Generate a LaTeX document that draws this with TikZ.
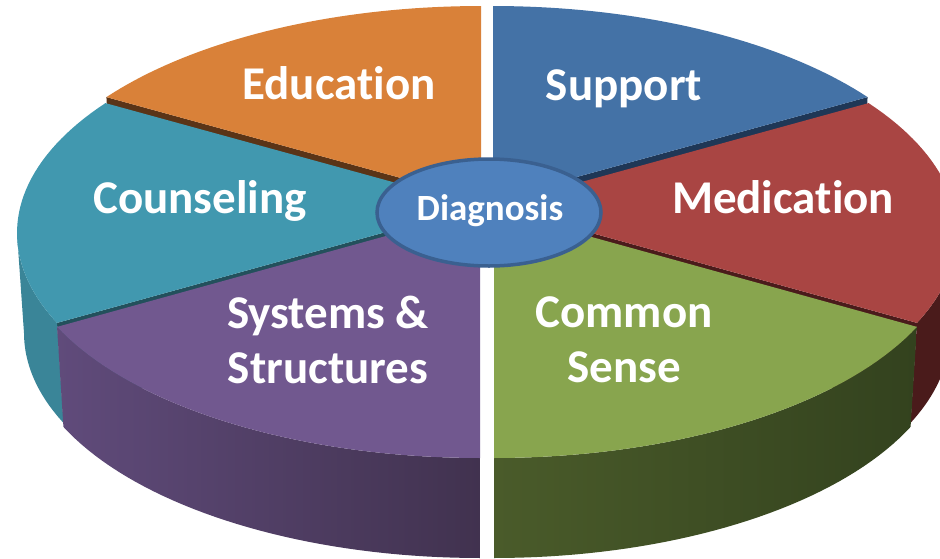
\documentclass[tikz,border=0pt]{standalone}
\usepackage{fontspec}
\setmainfont{Carlito}[Ligatures=NoCommon]
\usetikzlibrary{shapes.geometric}
\begin{document}
\begin{tikzpicture}[x=1pt,y=-1pt,
  lbl/.style={text=white,font=\bfseries\fontsize{47}{55}\selectfont,inner sep=0pt,anchor=base},
  diag/.style={ellipse,draw=diagedge,line width=3.5pt,fill=diagfill,minimum width=224pt,minimum height=107pt,
     inner sep=0pt},
  diagtext/.style={text=white,font=\bfseries\fontsize{37}{40}\selectfont,inner sep=0pt,anchor=base}]
\definecolor{edu}{HTML}{D98139}
\definecolor{edudark}{HTML}{5A3417}
\definecolor{sup}{HTML}{4472A6}
\definecolor{supdark}{HTML}{1F3756}
\definecolor{med}{HTML}{A94543}
\definecolor{meddark}{HTML}{4A1B1B}
\definecolor{com}{HTML}{88A54E}
\definecolor{comdarkA}{HTML}{4A5B2A}
\definecolor{comdarkB}{HTML}{33421E}
\definecolor{sys}{HTML}{71588F}
\definecolor{sysdarkA}{HTML}{604B7B}
\definecolor{sysdarkB}{HTML}{41324F}
\definecolor{cou}{HTML}{4198AF}
\definecolor{coudark}{HTML}{3A8598}
\definecolor{coustrip}{HTML}{23505C}
\definecolor{diagfill}{HTML}{4F81BD}
\definecolor{diagedge}{HTML}{3A6090}
\def\Ex{487}\def\Ey{231}\def\EA{463}\def\EB{221}
\def\Bx{487}\def\By{331}\def\BA{456}\def\BB{221}
\def\Px{487}\def\Py{204}\def\Qy{234}
\useasboundingbox (0,0) rectangle (940,558);
\clip (0,0) rectangle (940,558);
% ---------- Education (back left)
\begin{scope}[shift={(-6,-4)}]
  \fill[edudark] (\Px,\Py) -- ({\Ex+\EA*cos(216)},{\Ey+\EB*sin(216)}) -- ({\Bx+\BA*cos(216)},{\By+\BB*sin(216)}) -- (\Px,\Qy) -- cycle;
  \fill[edu] (\Px,\Py) -- plot[domain=216:270,samples=40] ({\Ex+\EA*cos(\x)},{\Ey+\EB*sin(\x)}) -- cycle;
\end{scope}
% ---------- Support (back right)
\begin{scope}[shift={(6,-4)}]
  \fill[supdark] (\Px,\Py) -- ({\Ex+\EA*cos(-36)},{\Ey+\EB*sin(-36)}) -- ({\Bx+\BA*cos(-36)},{\By+\BB*sin(-36)}) -- (\Px,\Qy) -- cycle;
  \fill[sup] (\Px,\Py) -- plot[domain=-90:-36,samples=40] ({\Ex+\EA*cos(\x)},{\Ey+\EB*sin(\x)}) -- cycle;
\end{scope}
% ---------- Counseling
\begin{scope}[shift={(-7,2)}]
  \fill[coustrip] (\Px,\Py) -- ({\Ex+\EA*cos(156)},{\Ey+\EB*sin(156)}) -- ({\Bx+\BA*cos(156)},{\By+\BB*sin(156)}) -- (\Px,\Qy) -- cycle;
  \fill[coudark] plot[domain=156:180,samples=30] ({\Ex+\EA*cos(\x)},{\Ey+\EB*sin(\x)}) -- plot[domain=180:156,samples=30] ({\Bx+\BA*cos(\x)},{\By+\BB*sin(\x)}) -- cycle;
  \fill[cou] (\Px,\Py) -- plot[domain=156:216,samples=40] ({\Ex+\EA*cos(\x)},{\Ey+\EB*sin(\x)}) -- cycle;
\end{scope}
% ---------- Medication
\begin{scope}[shift={(7,2)}]
  \fill[meddark] (\Px,\Py) -- ({\Ex+\EA*cos(24)},{\Ey+\EB*sin(24)}) -- ({\Bx+\BA*cos(24)},{\By+\BB*sin(24)}) -- (\Px,\Qy) -- cycle;
  \fill[meddark] plot[domain=-10:24,samples=30] ({\Ex+\EA*cos(\x)},{\Ey+\EB*sin(\x)}) -- plot[domain=24:-10,samples=30] ({\Bx+\BA*cos(\x)},{\By+\BB*sin(\x)}) -- cycle;
  \fill[med] (\Px,\Py) -- plot[domain=-36:24,samples=40] ({\Ex+\EA*cos(\x)},{\Ey+\EB*sin(\x)}) -- cycle;
\end{scope}
% ---------- Systems & Structures
\begin{scope}[shift={(-7,6)}]
  \shade[left color=sysdarkA,right color=sysdarkB] plot[domain=90:156,samples=40] ({\Ex+\EA*cos(\x)},{\Ey+\EB*sin(\x)}) -- plot[domain=156:90,samples=40] ({\Bx+\BA*cos(\x)},{\By+\BB*sin(\x)}) -- cycle;
  \fill[sys] (\Px,\Py) -- plot[domain=90:156,samples=40] ({\Ex+\EA*cos(\x)},{\Ey+\EB*sin(\x)}) -- cycle;
\end{scope}
% ---------- Common Sense
\begin{scope}[shift={(7,6)}]
  \shade[left color=comdarkA,right color=comdarkB] plot[domain=24:90,samples=40] ({\Ex+\EA*cos(\x)},{\Ey+\EB*sin(\x)}) -- plot[domain=90:24,samples=40] ({\Bx+\BA*cos(\x)},{\By+\BB*sin(\x)}) -- cycle;
  \fill[com] (\Px,\Py) -- plot[domain=24:90,samples=40] ({\Ex+\EA*cos(\x)},{\Ey+\EB*sin(\x)}) -- cycle;
\end{scope}
% ---------- labels
\node[lbl] (education) at (339,99) {Education};
\node[lbl] (support) at (624,100) {Support};
\node[lbl] (medication) at (783,213) {Medication};
\node[lbl] (counseling) at (200,213) {Counseling};
\node[lbl] (systemsA) at (328,328) {Systems \&};
\node[lbl] (systemsB) at (328,383) {Structures};
\node[lbl] (commonA) at (624,327) {Common};
\node[lbl] (commonB) at (624,382) {Sense};
\node[diag] (diagnosis) at (489,212.5) {};
\node[diagtext] (diagnosislabel) at (490,220) {Diagnosis};
\end{tikzpicture}
\end{document}
